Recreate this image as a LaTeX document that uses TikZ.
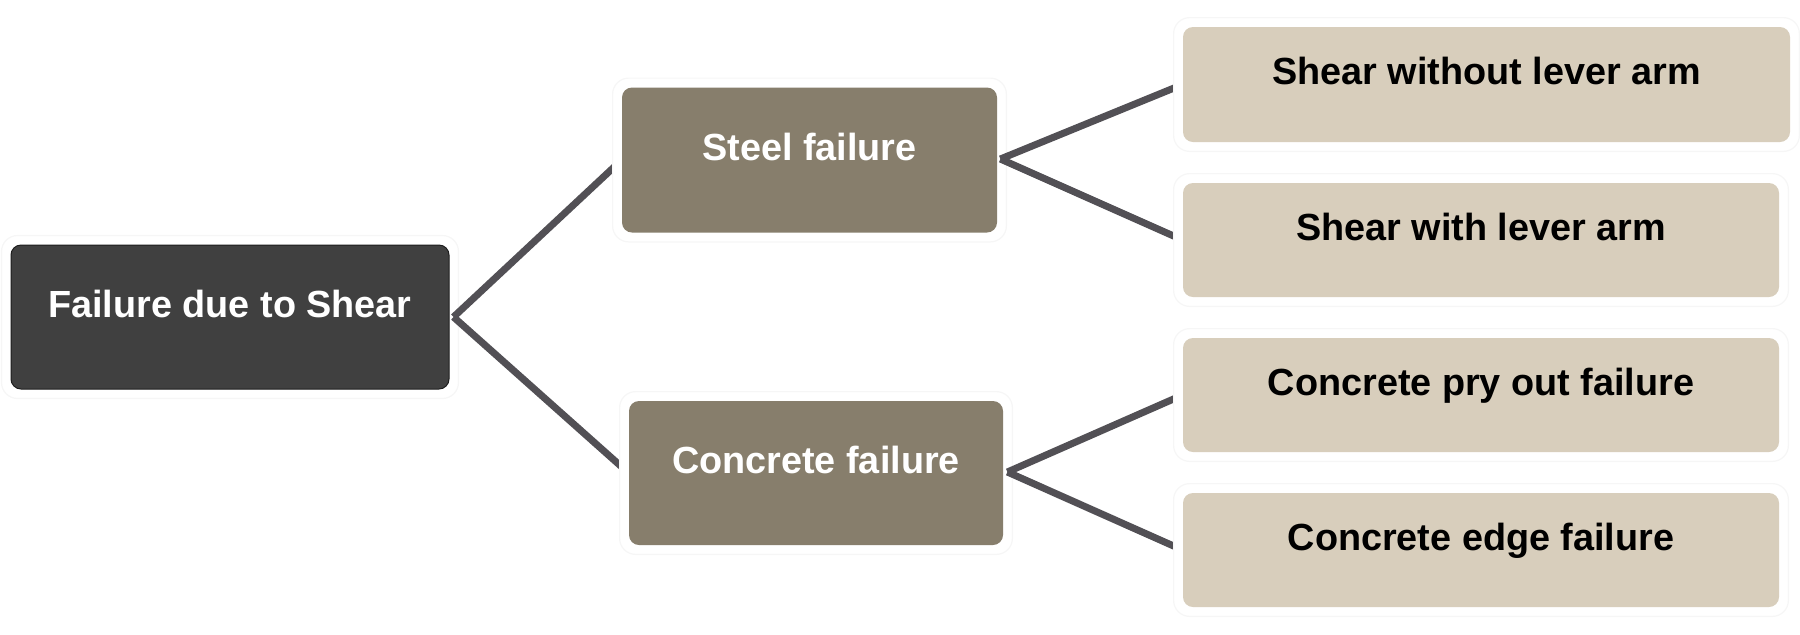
\documentclass[tikz,border=0pt]{standalone}
\usepackage{fontspec}
\setmainfont{Liberation Sans}
\usetikzlibrary{calc,backgrounds}
\definecolor{rootfill}{RGB}{64,64,64}
\definecolor{rootline}{RGB}{30,30,30}
\definecolor{midfill}{RGB}{135,126,108}
\definecolor{leaffill}{RGB}{216,206,188}
\definecolor{linkcol}{RGB}{82,80,85}
\definecolor{halocol}{RGB}{246,246,246}
\tikzset{
  box/.style={rectangle, rounded corners=5pt, inner sep=0pt, align=center,
    text height=8pt, text depth=8pt,
    font=\fontsize{18.9}{22}\selectfont\bfseries},
  rootbox/.style={box, fill=rootfill, draw=rootline, line width=0.5pt, text=white,
    minimum width=219pt, minimum height=72pt},
  midbox/.style={box, fill=midfill, text=white, minimum width=187.5pt, minimum height=72.5pt},
  leafbox/.style={box, fill=leaffill, text=black, minimum width=298pt, minimum height=57pt},
  halo/.style={fill=white, draw=halocol, line width=0.6pt, rounded corners=8pt},
  link/.style={draw=linkcol, line width=3.5pt, line cap=butt}
}
\newcommand{\halofor}[1]{\path[halo] ($(#1.south west)+(-9,9)$) rectangle ($(#1.north east)+(9,-9)$);}
\begin{document}
\begin{tikzpicture}[x=0.5pt,y=-0.5pt]
\useasboundingbox (0,0) rectangle (1800,634);
\node[rootbox] (root) at (230,317) {Failure due to Shear};
\node[midbox] (steel) at (809.5,160) {Steel failure};
\node[midbox, minimum width=187pt, minimum height=72pt] (conc) at (816,473) {Concrete failure};
\node[leafbox, minimum width=303.5pt, minimum height=57.5pt] (r1) at (1486.5,84.5) {Shear without lever arm};
\node[leafbox] (r2) at (1481,240) {Shear with lever arm};
\node[leafbox] (r3) at (1481,395) {Concrete pry out failure};
\node[leafbox] (r4) at (1481,550) {Concrete edge failure};
\coordinate (v0) at ($(root.east)+(4,0)$);
\coordinate (v1) at ($(steel.east)+(3,-1)$);
\coordinate (v2) at ($(conc.east)+(4,-1)$);
\begin{pgfonlayer}{background}
  \halofor{root}
  \draw[link] (v0) -- (steel.west);
  \draw[link] (v0) -- (conc.west);
  \halofor{steel}
  \halofor{conc}
  \draw[link] (v1) -- (r1.west);
  \draw[link] (v1) -- (r2.west);
  \draw[link] (v2) -- (r3.west);
  \draw[link] (v2) -- (r4.west);
  \halofor{r1}
  \halofor{r2}
  \halofor{r3}
  \halofor{r4}
\end{pgfonlayer}
\end{tikzpicture}
\end{document}
